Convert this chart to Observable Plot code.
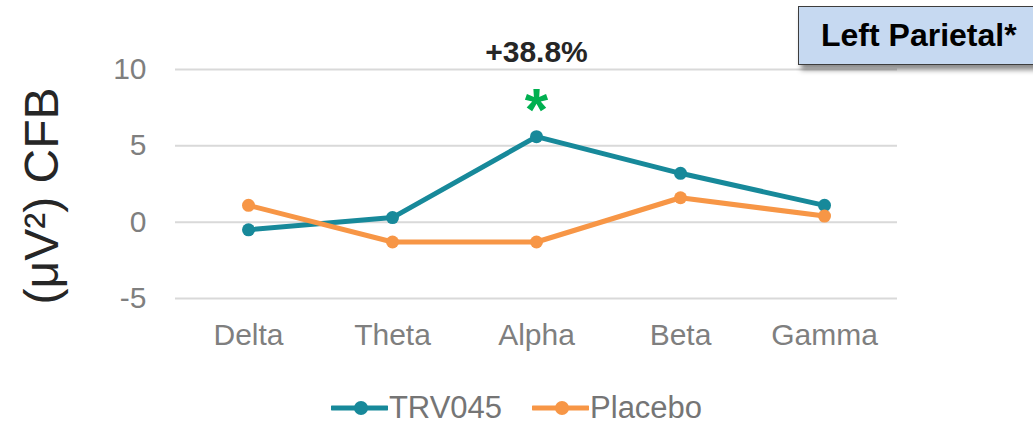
<!DOCTYPE html>
<html>
<head>
<meta charset="utf-8">
<script src="https://cdn.jsdelivr.net/npm/d3@7"></script>
<script src="https://cdn.jsdelivr.net/npm/@observablehq/plot@0.6"></script>
<style>
  html, body { margin: 0; padding: 0; background: #fff; }
  body { width: 1033px; height: 424px; overflow: hidden; position: relative; font-family: "Liberation Sans", Arial, sans-serif; }
  #chart svg { display: block; }
  #legend { display: flex; justify-content: center; align-items: center; gap: 30px; height: 30px; margin-top: 21px; }
  .item { display: flex; align-items: center; font-size: 31px; line-height: 30px; color: #757575; }
  .item svg { display: block; margin-right: 1px; }
  #badge { position: absolute; left: 798px; top: 6px; width: 250px; height: 59px; box-sizing: border-box;
    background: #c6d9f1; border: 1.5px solid #3d3d3d; box-shadow: 3px 5px 5px rgba(0,0,0,0.45);
    font-weight: bold; font-size: 32px; color: #000; line-height: 56px; padding-left: 22px; white-space: nowrap; }
</style>
</head>
<body>
<div id="chart"></div>
<div id="legend"></div>
<div id="badge"></div>
<script>
const bands = ["Delta", "Theta", "Alpha", "Beta", "Gamma"];
const trv045 = [-0.5, 0.3, 5.6, 3.2, 1.1];
const placebo = [1.1, -1.3, -1.3, 1.6, 0.4];
const seriesNames = ["TRV045", "Placebo"];
const seriesColors = ["#17899a", "#f79646"];
const yTicks = [-5, 0, 5, 10];
const yLabel = "(\u03BCV\u00B2) CFB";
const annotationBand = ["Alpha"];
const annotationText = ["+38.8%"];
const annotationValue = [11.1];
const starText = ["*"];
const starValue = [7.9];
const badgeText = "Left Parietal*";

const rows = [];
bands.forEach((b, i) => {
  rows.push({band: b, value: trv045[i], series: seriesNames[0]});
  rows.push({band: b, value: placebo[i], series: seriesNames[1]});
});

const chart = Plot.plot({
  width: 1033,
  height: 372,
  marginLeft: 175,
  marginRight: 136,
  marginTop: 69,
  marginBottom: 74,
  style: {fontFamily: "'Liberation Sans', Arial, sans-serif", background: "#fff", overflow: "visible"},
  x: {type: "point", domain: bands, padding: 0.5},
  y: {domain: [-5, 10]},
  color: {domain: seriesNames, range: seriesColors},
  marks: [
    Plot.ruleY(yTicks, {stroke: "#d9d9d9", strokeWidth: 2}),
    Plot.axisY(yTicks, {tickSize: 0, tickPadding: 29, fontSize: 30, fill: "#7f7f7f", label: null, tickFormat: d => String(d)}),
    Plot.axisX(bands, {tickSize: 0, tickPadding: 25, fontSize: 30, fill: "#7f7f7f", label: null}),
    Plot.text([yLabel], {frameAnchor: "left", textAnchor: "middle", rotate: -90, dx: -133, dy: 12, fontSize: 48, fill: "#262626"}),
    Plot.line(rows, {x: "band", y: "value", stroke: "series", strokeWidth: 5, z: "series"}),
    Plot.dot(rows, {x: "band", y: "value", fill: "series", r: 6.5}),
    Plot.text(annotationBand, {x: d => d, y: (d, i) => annotationValue[i], text: (d, i) => annotationText[i],
      fontSize: 30, fontWeight: "bold", fill: "#262626"}),
    Plot.text(annotationBand, {x: d => d, y: (d, i) => starValue[i], text: (d, i) => starText[i],
      fontSize: 60, fontWeight: "bold", fill: "#00b050", dy: 9})
  ]
});
document.getElementById("chart").appendChild(chart);

const legend = document.getElementById("legend");
seriesNames.forEach((name, i) => {
  const item = document.createElement("div");
  item.className = "item";
  const c = seriesColors[i];
  item.innerHTML = `<svg width="57" height="20"><line x1="1" y1="10" x2="56" y2="10" stroke="${c}" stroke-width="5" stroke-linecap="round"/><circle cx="30" cy="10" r="7" fill="${c}"/></svg><span>${name}</span>`;
  legend.appendChild(item);
});
document.getElementById("badge").textContent = badgeText;
</script>
</body>
</html>
